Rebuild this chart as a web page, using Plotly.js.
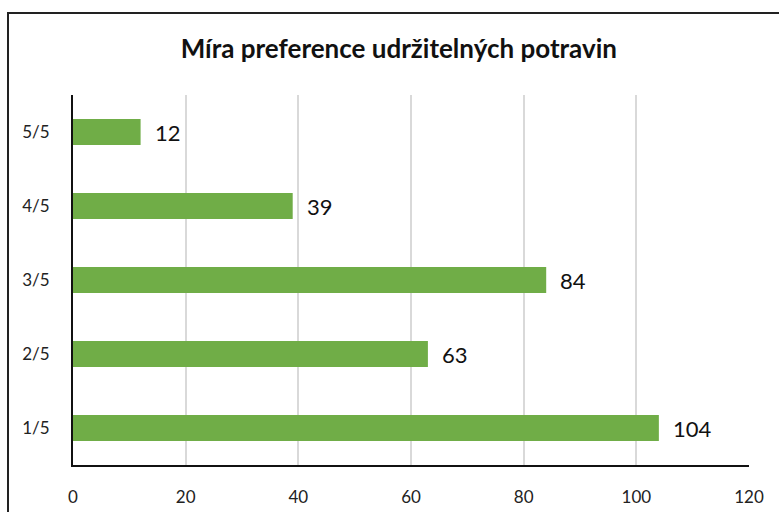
<!DOCTYPE html>
<html><head><meta charset="utf-8">
<script src="https://cdn.plot.ly/plotly-3.0.1.min.js"></script>
<style>
html,body{margin:0;padding:0;background:#fff;}
#frame{position:absolute;left:7px;top:12px;width:800px;height:600px;border-left:2px solid #222;border-top:2px solid #222;pointer-events:none;z-index:5;}
#chart{position:absolute;left:0;top:0;width:779px;height:512px;}
</style></head>
<body>
<div id="chart"></div>
<div id="frame"></div>
<script>
const categories = ["1/5", "2/5", "3/5", "4/5", "5/5"];
const values = [104, 63, 84, 39, 12];
const xTicks = [0, 20, 40, 60, 80, 100, 120];
const chartTitle = "Míra preference udržitelných potravin";

const font = "Lato, 'Open Sans', sans-serif";

const trace = {
  type: "bar",
  orientation: "h",
  y: categories,
  x: values,
  marker: {color: "#70AD47"},
  hoverinfo: "none"
};

const annotations = values.map((v, i) => ({
  x: v, y: categories[i], xref: "x", yref: "y",
  text: String(v), showarrow: false, xanchor: "left", xshift: 12,
  font: {family: font, size: 22, color: "#111"}
}));

const layout = {
  width: 779, height: 512,
  margin: {l: 73, r: 30, t: 95, b: 47},
  paper_bgcolor: "#fff", plot_bgcolor: "#fff",
  bargap: 0.65,
  showlegend: false,
  title: {text: "<b>" + chartTitle + "</b>", x: 0.512, xanchor: "center", y: 0.905, yanchor: "middle",
          font: {family: font, size: 26, color: "#111"}},
  xaxis: {
    range: [0, 120], tickvals: xTicks, ticktext: xTicks.map(String),
    showgrid: true, gridcolor: "#d9d9d9", gridwidth: 2,
    zeroline: false, showline: true, linecolor: "#111", linewidth: 2,
    ticks: "", ticklen: 0, tickfont: {family: font, size: 17, color: "#222"},
    ticklabelstandoff: 16, fixedrange: true
  },
  yaxis: {
    categoryorder: "array", categoryarray: categories,
    showgrid: false, zeroline: false, showline: true, linecolor: "#111", linewidth: 2,
    ticks: "", tickfont: {family: font, size: 17, color: "#222"},
    ticklabelstandoff: 18, fixedrange: true
  },
  annotations: annotations
};

Plotly.newPlot("chart", [trace], layout, {displayModeBar: false, staticPlot: true});
</script>
</body></html>
